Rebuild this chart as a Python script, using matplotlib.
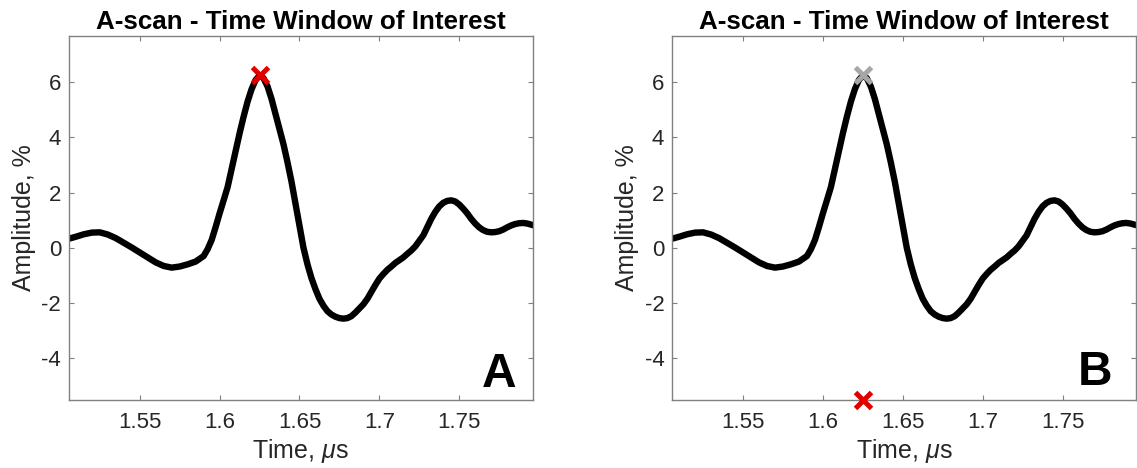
import matplotlib
matplotlib.use("Agg")
import matplotlib.pyplot as plt

plt.rcParams["font.family"] = ["Liberation Sans", "DejaVu Sans"]
plt.rcParams["mathtext.fontset"] = "custom"
plt.rcParams["mathtext.rm"] = "Liberation Sans"
plt.rcParams["mathtext.it"] = "Liberation Sans:italic"
plt.rcParams["axes.unicode_minus"] = False

# A-scan samples inside the time window (time in microseconds, amplitude in %)
time_us = [
    1.505, 1.510, 1.515, 1.520, 1.525, 1.530, 1.535, 1.540, 1.545, 1.550,
    1.555, 1.560, 1.565, 1.570, 1.575, 1.580, 1.585, 1.590, 1.5925, 1.595,
    1.5975, 1.600, 1.6025, 1.605, 1.6075, 1.610, 1.6125, 1.615, 1.6175, 1.620,
    1.6225, 1.625, 1.6275, 1.630, 1.6325, 1.635, 1.6375, 1.640, 1.6425, 1.645,
    1.6475, 1.650, 1.6525, 1.655, 1.6575, 1.660, 1.6625, 1.665, 1.6675, 1.670,
    1.6725, 1.675, 1.6775, 1.680, 1.6825, 1.685, 1.6875, 1.690, 1.6925, 1.695,
    1.6975, 1.700, 1.7025, 1.705, 1.7075, 1.710, 1.7125, 1.715, 1.7175, 1.720,
    1.7225, 1.725, 1.7275, 1.730, 1.7325, 1.735, 1.7375, 1.740, 1.7425, 1.745,
    1.7475, 1.750, 1.7525, 1.755, 1.7575, 1.760, 1.7625, 1.765, 1.7675, 1.770,
    1.7725, 1.775, 1.7775, 1.780, 1.7825, 1.785, 1.7875, 1.790, 1.7925, 1.795,
    1.7975,
]
amplitude = [
    0.32, 0.40, 0.49, 0.55, 0.56, 0.48, 0.35, 0.18, 0.01, -0.17,
    -0.35, -0.53, -0.66, -0.72, -0.68, -0.60, -0.50, -0.30, -0.05, 0.28,
    0.75, 1.25, 1.72, 2.20, 2.85, 3.50, 4.15, 4.75, 5.30, 5.75,
    6.08, 6.25, 6.15, 5.85, 5.40, 4.85, 4.30, 3.75, 3.10, 2.40,
    1.60, 0.80, 0.00, -0.60, -1.10, -1.50, -1.85, -2.10, -2.30, -2.42,
    -2.50, -2.55, -2.57, -2.55, -2.48, -2.35, -2.20, -2.05, -1.85, -1.60,
    -1.35, -1.12, -0.95, -0.80, -0.68, -0.55, -0.45, -0.35, -0.22, -0.10,
    0.05, 0.25, 0.45, 0.75, 1.05, 1.30, 1.50, 1.63, 1.70, 1.72,
    1.68, 1.57, 1.42, 1.25, 1.05, 0.88, 0.74, 0.64, 0.58, 0.56,
    0.57, 0.60, 0.66, 0.74, 0.81, 0.86, 0.89, 0.90, 0.88, 0.84,
    0.80,
]

# Picked peak and its projection onto the time axis
peak_time = 1.625
peak_amp = 6.25
y_floor = -5.52

x_ticks = [1.55, 1.60, 1.65, 1.70, 1.75]
x_tick_labels = ["1.55", "1.6", "1.65", "1.7", "1.75"]
y_ticks = [-4, -2, 0, 2, 4, 6]
panel_letters = ["A", "B"]

title_text = "A-scan - Time Window of Interest"
frame_col = "#808080"
text_col = "#262626"

fig = plt.figure(figsize=(11.37, 4.68), dpi=100)
ax_a = fig.add_axes([0.0604, 0.1453, 0.4081, 0.7778])
ax_b = fig.add_axes([0.5910, 0.1453, 0.4081, 0.7778])

for ax in (ax_a, ax_b):
    ax.plot(time_us, amplitude, color="black", lw=4.6,
            solid_joinstyle="round", solid_capstyle="round", zorder=2)
    ax.set_xlim(1.5055, 1.796)
    ax.set_ylim(y_floor, 7.68)
    ax.set_xticks(x_ticks)
    ax.set_xticklabels(x_tick_labels)
    ax.set_yticks(y_ticks)
    ax.tick_params(axis="both", which="both", direction="in", top=True, right=True,
                   length=3.4, width=0.8, color=frame_col, labelsize=16,
                   labelcolor=text_col)
    ax.tick_params(axis="x", pad=8.5)
    ax.tick_params(axis="y", pad=5.5)
    for sp in ax.spines.values():
        sp.set_color(frame_col)
        sp.set_linewidth(1.0)
    ax.set_title(title_text, fontsize=18.7, fontweight="bold", pad=5, color="black")
    ax.set_xlabel("Time, $\\mu$s", fontsize=18, color=text_col, labelpad=3)
    ax.set_ylabel("Amplitude, %", fontsize=18, color=text_col, labelpad=4)

# Panel A: peak marked in red
ax_a.plot([peak_time], [peak_amp], linestyle="none", marker="x", ms=11,
          mew=3.6, color="#e00000", zorder=3)
# Panel B: previous pick in grey, new pick on the time axis in red
ax_b.plot([peak_time], [peak_amp], linestyle="none", marker="x", ms=11,
          mew=3.6, color="#a6a6a6", zorder=3)
ax_b.plot([peak_time], [y_floor], linestyle="none", marker="x", ms=11,
          mew=3.6, color="#e00000", zorder=3, clip_on=False)

ax_a.text(0.966, 0.037, panel_letters[0], transform=ax_a.transAxes, ha="right",
          va="baseline", fontsize=34.5, fontweight="bold", color="black")
ax_b.text(0.948, 0.04, panel_letters[1], transform=ax_b.transAxes, ha="right",
          va="baseline", fontsize=34.5, fontweight="bold", color="black")

fig.savefig("out.png", dpi=100)
